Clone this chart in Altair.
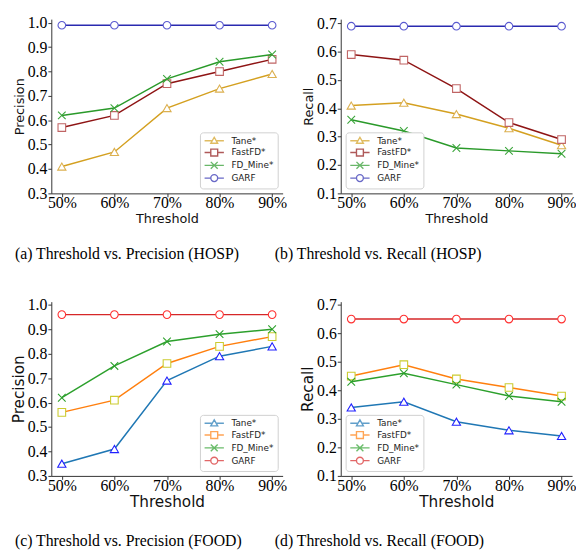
import altair as alt
import pandas as pd

thresholds = [50, 60, 70, 80, 90]
series_names = ["Tane*", "FastFD*", "FD_Mine*", "GARF"]

# (a) HOSP precision
hosp_prec_tane = [0.41, 0.47, 0.65, 0.73, 0.79]
hosp_prec_fastfd = [0.57, 0.62, 0.75, 0.80, 0.85]
hosp_prec_fdmine = [0.62, 0.65, 0.77, 0.84, 0.87]
hosp_prec_garf = [0.99, 0.99, 0.99, 0.99, 0.99]

# (b) HOSP recall
hosp_rec_tane = [0.41, 0.42, 0.38, 0.33, 0.27]
hosp_rec_fastfd = [0.59, 0.57, 0.47, 0.35, 0.29]
hosp_rec_fdmine = [0.36, 0.32, 0.26, 0.25, 0.24]
hosp_rec_garf = [0.69, 0.69, 0.69, 0.69, 0.69]

# (c) FOOD precision
food_prec_tane = [0.35, 0.41, 0.69, 0.79, 0.83]
food_prec_fastfd = [0.56, 0.61, 0.76, 0.83, 0.87]
food_prec_fdmine = [0.62, 0.75, 0.85, 0.88, 0.90]
food_prec_garf = [0.96, 0.96, 0.96, 0.96, 0.96]

# (d) FOOD recall
food_rec_tane = [0.34, 0.36, 0.29, 0.26, 0.24]
food_rec_fastfd = [0.45, 0.49, 0.44, 0.41, 0.38]
food_rec_fdmine = [0.43, 0.46, 0.42, 0.38, 0.36]
food_rec_garf = [0.65, 0.65, 0.65, 0.65, 0.65]

prec_ticks = [0.3, 0.4, 0.5, 0.6, 0.7, 0.8, 0.9, 1.0]
rec_ticks = [0.1, 0.2, 0.3, 0.4, 0.5, 0.6, 0.7]

top_line_colors = ["#d4a020", "#8e1414", "#2a9a2a", "#2a2ab0"]
top_marker_colors = ["#dcb050", "#c06464", "#3aa53a", "#5a5ad0"]
bot_line_colors = ["#1f77b4", "#ff7f0e", "#2ca02c", "#d62728"]
bot_marker_colors = ["#2020ff", "#cccc30", "#2ca02c", "#ff3030"]

marker_shapes = ["triangle-up", "square", "M-1,-1L1,1M-1,1L1,-1", "circle"]
marker_sizes = [70, 60, 60, 60]
legend_paths = [
    "M-2.8,0H-0.57M0.57,0H2.8M0,-1L1,0.75L-1,0.75Z",
    "M-2.8,0H-1M1,0H2.8M-1,-1H1V1H-1Z",
    "M-2.8,0H2.8M-1,-1L1,1M-1,1L1,-1",
    "M-2.8,0H-1M1,0H2.8M1,0A1,1,0,1,1,-1,0A1,1,0,1,1,1,0Z",
]


def make_df(cols):
    rows = []
    for name, vals in zip(series_names, cols):
        for t, v in zip(thresholds, vals):
            rows.append({"threshold": t, "value": v, "series": name})
    return pd.DataFrame(rows)


def panel(df, ytitle, ydomain, yticks, legend_orient, line_colors, marker_colors,
          title_size, caption, caption_dx, caption_offset):
    x = alt.X("threshold:Q",
              scale=alt.Scale(domain=[48, 92], nice=False, zero=False),
              axis=alt.Axis(values=thresholds, labelExpr="datum.value + '%'",
                            title="Threshold", titleFontSize=title_size,
                            tickSize=3.5, labelPadding=-2, titlePadding=2))
    y = alt.Y("value:Q",
              scale=alt.Scale(domain=ydomain, nice=False, zero=False),
              axis=alt.Axis(values=yticks, format=".1f", title=ytitle,
                            titleFontSize=title_size, titlePadding=1,
                            tickSize=3.5, labelPadding=1))
    layers = []
    for i, s in enumerate(series_names):
        layers.append(
            alt.Chart(df).transform_filter(alt.datum.series == s).mark_line(
                color=line_colors[i], strokeWidth=1.5,
                point=alt.OverlayMarkDef(shape=marker_shapes[i], filled=False,
                                         fill="white", stroke=marker_colors[i],
                                         strokeWidth=1.1, size=marker_sizes[i]),
            ).encode(x=x, y=y)
        )
    leg = alt.Legend(title=None, orient=legend_orient, offset=5, symbolSize=49,
                     symbolStrokeWidth=1.4, labelFont="DejaVu Sans", labelFontSize=9,
                     labelColor="#222222", fillColor="white", strokeColor="#d0d0d0",
                     cornerRadius=3, padding=4, rowPadding=0, symbolOffset=6,
                     labelOffset=13)
    legend_layer = alt.Chart(df).transform_filter("false").mark_point(
        filled=False).encode(
        color=alt.Color("series:N", scale=alt.Scale(domain=series_names, range=line_colors),
                        legend=leg),
        shape=alt.Shape("series:N", scale=alt.Scale(domain=series_names, range=legend_paths),
                        legend=leg),
    )
    layers.append(legend_layer)
    return alt.layer(*layers).properties(
        width=235, height=177,
        title=alt.TitleParams(caption, orient="bottom", anchor="start", frame="group",
                              dx=caption_dx, offset=caption_offset, font="Liberation Serif",
                              fontSize=16, fontWeight="normal", color="black"),
    )


a = panel(make_df([hosp_prec_tane, hosp_prec_fastfd, hosp_prec_fdmine, hosp_prec_garf]),
          "Precision", [0.3, 1.015], prec_ticks, "bottom-right",
          top_line_colors, top_marker_colors, 13,
          "(a)  Threshold vs. Precision (HOSP)", -37, 21)
b = panel(make_df([hosp_rec_tane, hosp_rec_fastfd, hosp_rec_fdmine, hosp_rec_garf]),
          "Recall", [0.1, 0.715], rec_ticks, "bottom-left",
          top_line_colors, top_marker_colors, 13,
          "(b)  Threshold vs. Recall (HOSP)", -67, 21)
c = panel(make_df([food_prec_tane, food_prec_fastfd, food_prec_fdmine, food_prec_garf]),
          "Precision", [0.3, 1.013], prec_ticks, "bottom-right",
          bot_line_colors, bot_marker_colors, 15.5,
          "(c)  Threshold vs. Precision (FOOD)", -37, 23)
d = panel(make_df([food_rec_tane, food_rec_fastfd, food_rec_fdmine, food_rec_garf]),
          "Recall", [0.1, 0.711], rec_ticks, "bottom-left",
          bot_line_colors, bot_marker_colors, 15.5,
          "(d)  Threshold vs. Recall (FOOD)", -67, 23)

chart = alt.concat(a, b, c, d, columns=2, spacing={"row": 110, "column": 59},
                   bounds="flush").resolve_scale(
    color="independent", shape="independent"
).resolve_legend(
    color="independent", shape="independent"
).properties(
    padding={"left": 3, "top": 2, "right": 0, "bottom": 0}
).configure_view(stroke=None).configure_axis(
    grid=False, domainColor="#333333", tickColor="#333333", domainWidth=1,
    tickWidth=1, labelFont="Liberation Serif",
    labelFontSize=16, labelColor="black", titleFont="DejaVu Sans",
    titleFontWeight="normal", titleColor="#111111",
)

chart.save("out.html", embed_options={"renderer": "svg", "actions": False})
